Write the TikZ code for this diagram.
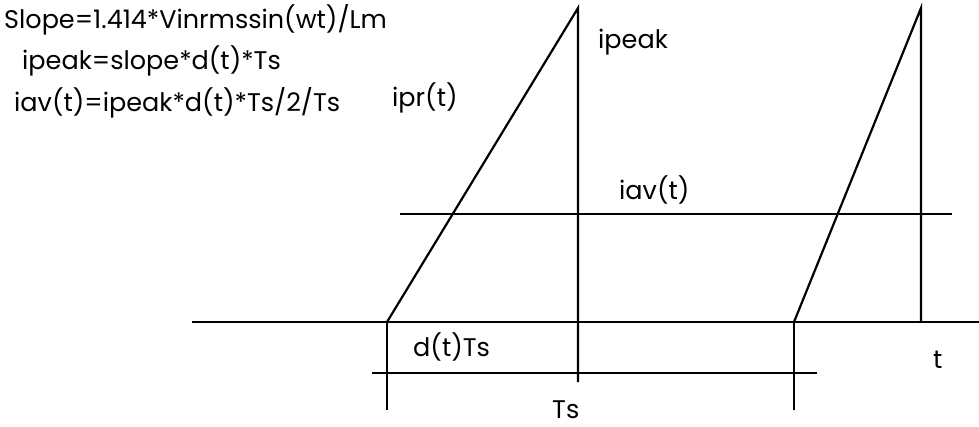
\documentclass[tikz,border=0pt]{standalone}
\usepackage{fontspec}
\setmainfont{Poppins}
\usepackage{tikz}
\usetikzlibrary{calc}

\begin{document}
\begin{tikzpicture}[x=1pt, y=-1pt,
  font=\fontsize{25.5}{30}\selectfont,
  wave/.style={line width=2.2pt, black},
  axis/.style={line width=2.2pt, black},
  lab/.style={inner sep=0pt, anchor=west}]
\useasboundingbox (0,0) rectangle (979,426);
% formulas
\node[lab] (slope) at (4,20) {Slope=1.414*Vinrmssin(wt)/Lm};
\node[lab] (pk) at (22,61) {ipeak=slope*d(t)*Ts};
\node[lab] (av) at (14,103) {iav(t)=ipeak*d(t)*Ts/2/Ts};
% key points
\coordinate (s1) at (387,322);
\coordinate (p1) at (578,8);
\coordinate (s2) at (794,322);
\coordinate (p2) at (921,8);
% time axis and average
\draw[axis] (192,322) -- (979,322);
\draw[axis] (400,214) -- (952,214);
\draw[axis] (372,373) -- (817,373);
% ramps
\draw[wave] (s1) -- (p1) -- (p1 |- 0,382);
\draw[wave] (s2) -- (p2) -- (p2 |- s2);
\draw[axis] (s1) -- (s1 |- 0,410);
\draw[axis] (s2) -- (s2 |- 0,410);
% labels
\node[lab] (ipr) at (392,98) {ipr(t)};
\node[lab] (ipk) at (598,42) {ipeak};
\node[lab] (iav) at (619,190) {iav(t)};
\node[lab] (dts) at (413,347) {d(t)Ts};
\node[lab] (ts) at (552,410) {Ts};
\node[lab] (t) at (933,360) {t};
\end{tikzpicture}
\end{document}
